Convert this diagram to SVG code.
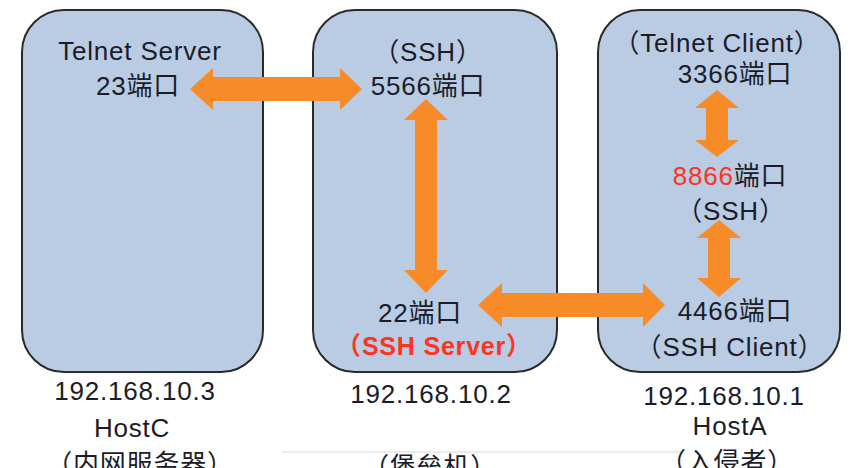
<svg xmlns="http://www.w3.org/2000/svg" width="854" height="468" viewBox="0 0 854 468">
  <style>
    .box { fill: #b9cce4; stroke: #2a2a2a; stroke-width: 2; }
    .t { font-family: "Liberation Sans", "Noto Sans CJK SC", sans-serif; font-size: 26px; fill: #1c1c28; text-anchor: middle; letter-spacing: 0.8px; }
    .red { fill: #ff3322; }
    .bold { font-weight: bold; }
    .arrow { fill: #f68b28; }
  </style>
  <rect width="854" height="468" fill="#ffffff"/>
  <line x1="282" y1="452" x2="683" y2="452" stroke="#e6e6e6" stroke-width="1.5"/>

  <g id="hostC">
    <rect class="box" x="22" y="10" width="241" height="362" rx="42" ry="42"/>
    <text class="t" x="140" y="60">Telnet Server</text>
    <text class="t" x="138" y="95">23端口</text>
    <text class="t" x="135" y="400">192.168.10.3</text>
    <text class="t" x="132" y="437">HostC</text>
    <text class="t" x="140" y="473">（内网服务器）</text>
  </g>

  <g id="bastion">
    <rect class="box" x="313" y="10" width="244" height="362" rx="42" ry="42"/>
    <text class="t" x="428" y="61">（SSH）</text>
    <text class="t" x="428" y="95">5566端口</text>
    <text class="t" x="420" y="322">22端口</text>
    <text class="t red bold" x="434" y="355" style="font-size:25px">（SSH Server）</text>
    <text class="t" x="431" y="403">192.168.10.2</text>
    <text class="t" x="430" y="476">（堡垒机）</text>
  </g>

  <g id="hostA">
    <rect class="box" x="598" y="10" width="242" height="362" rx="42" ry="42"/>
    <text class="t" x="717" y="52">（Telnet Client）</text>
    <text class="t" x="735" y="83">3366端口</text>
    <text class="t" x="730" y="185"><tspan class="red">8866</tspan>端口</text>
    <text class="t" x="731" y="220">（SSH）</text>
    <text class="t" x="735" y="320">4466端口</text>
    <text class="t" x="730" y="356">（SSH Client）</text>
    <text class="t" x="724" y="405">192.168.10.1</text>
    <text class="t" x="730" y="435">HostA</text>
    <text class="t" x="727" y="471">（入侵者）</text>
  </g>

  <g id="connectors">
    <polygon class="arrow" points="190,89 213,68 213,77 340,77 340,68 362,89 340,110 340,101 213,101 213,110"/>
    <polygon class="arrow" points="426,99 448,120 437,120 437,270 448,270 426,293 404,270 415,270 415,120 404,120"/>
    <polygon class="arrow" points="478,305 502,283 502,293 643,293 643,283 665,305 643,327 643,317 502,317 502,327"/>
    <polygon class="arrow" points="717,90 739,108 728,108 728,140 739,140 717,157 695,140 706,140 706,108 695,108"/>
    <polygon class="arrow" points="719,220 741,238 730,238 730,278 741,278 719,297 697,278 708,278 708,238 697,238"/>
  </g>
</svg>
